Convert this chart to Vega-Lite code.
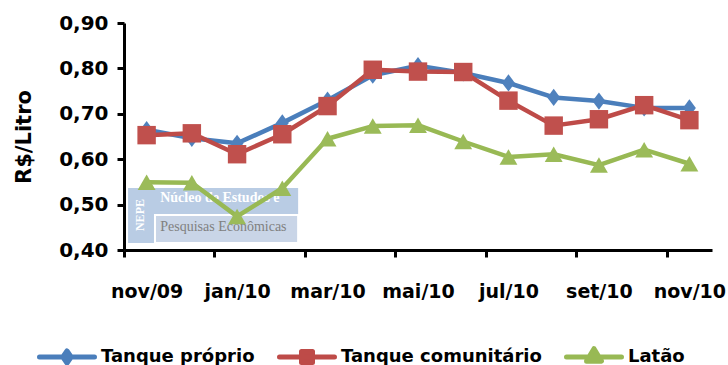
{
  "$schema": "https://vega.github.io/schema/vega-lite/v6.json",
  "width": 588,
  "height": 227,
  "autosize": {"type": "none"},
  "padding": {"left": 124, "top": 23, "right": 16, "bottom": 115},
  "background": "white",
  "config": {"view": {"stroke": null}, "font": "DejaVu Sans"},
  "datasets": {
    "prices": [
      {"m": "nov/09", "s": "Tanque próprio", "v": 0.665},
      {"m": "dez/09", "s": "Tanque próprio", "v": 0.646},
      {"m": "jan/10", "s": "Tanque próprio", "v": 0.635},
      {"m": "fev/10", "s": "Tanque próprio", "v": 0.68},
      {"m": "mar/10", "s": "Tanque próprio", "v": 0.73},
      {"m": "abr/10", "s": "Tanque próprio", "v": 0.785},
      {"m": "mai/10", "s": "Tanque próprio", "v": 0.806},
      {"m": "jun/10", "s": "Tanque próprio", "v": 0.79},
      {"m": "jul/10", "s": "Tanque próprio", "v": 0.768},
      {"m": "ago/10", "s": "Tanque próprio", "v": 0.736},
      {"m": "set/10", "s": "Tanque próprio", "v": 0.728},
      {"m": "out/10", "s": "Tanque próprio", "v": 0.713},
      {"m": "nov/10", "s": "Tanque próprio", "v": 0.713},
      {"m": "nov/09", "s": "Tanque comunitário", "v": 0.653},
      {"m": "dez/09", "s": "Tanque comunitário", "v": 0.657},
      {"m": "jan/10", "s": "Tanque comunitário", "v": 0.611},
      {"m": "fev/10", "s": "Tanque comunitário", "v": 0.655},
      {"m": "mar/10", "s": "Tanque comunitário", "v": 0.717},
      {"m": "abr/10", "s": "Tanque comunitário", "v": 0.797},
      {"m": "mai/10", "s": "Tanque comunitário", "v": 0.793},
      {"m": "jun/10", "s": "Tanque comunitário", "v": 0.792},
      {"m": "jul/10", "s": "Tanque comunitário", "v": 0.729},
      {"m": "ago/10", "s": "Tanque comunitário", "v": 0.674},
      {"m": "set/10", "s": "Tanque comunitário", "v": 0.688},
      {"m": "out/10", "s": "Tanque comunitário", "v": 0.719},
      {"m": "nov/10", "s": "Tanque comunitário", "v": 0.686},
      {"m": "nov/09", "s": "Latão", "v": 0.549},
      {"m": "dez/09", "s": "Latão", "v": 0.548},
      {"m": "jan/10", "s": "Latão", "v": 0.474},
      {"m": "fev/10", "s": "Latão", "v": 0.536},
      {"m": "mar/10", "s": "Latão", "v": 0.645},
      {"m": "abr/10", "s": "Latão", "v": 0.673},
      {"m": "mai/10", "s": "Latão", "v": 0.675},
      {"m": "jun/10", "s": "Latão", "v": 0.639},
      {"m": "jul/10", "s": "Latão", "v": 0.605},
      {"m": "ago/10", "s": "Latão", "v": 0.611},
      {"m": "set/10", "s": "Latão", "v": 0.587},
      {"m": "out/10", "s": "Latão", "v": 0.621},
      {"m": "nov/10", "s": "Latão", "v": 0.59}
    ],
    "logo": [
      {"ox0": 0.09, "ox1": 3.85, "oy0": 0.4154, "oy1": 0.5366, "ix0": 0.685, "iy1": 0.477, "tx": 0.8, "t1y": 0.5135, "t2y": 0.4507, "nx": 0.354, "ny": 0.477, "t1": "Núcleo de Estudos e", "t2": "Pesquisas Econômicas", "n": "NEPE"}
    ]
  },
  "layer": [
    {
      "data": {"name": "logo"},
      "layer": [
        {
          "mark": {"type": "rect", "fill": "#B9CCE4"},
          "encoding": {
            "x": {"field": "ox0", "type": "quantitative", "scale": {"domain": [0, 13], "nice": false, "zero": false}, "axis": null},
            "x2": {"field": "ox1"},
            "y": {"field": "oy0", "type": "quantitative", "scale": {"domain": [0.4, 0.9], "nice": false, "zero": false}},
            "y2": {"field": "oy1"}
          }
        },
        {
          "mark": {"type": "rect", "fill": "#C9D5E7", "stroke": "white", "strokeWidth": 2},
          "encoding": {
            "x": {"field": "ix0", "type": "quantitative", "scale": {"domain": [0, 13], "nice": false, "zero": false}, "axis": null},
            "x2": {"field": "ox1"},
            "y": {"field": "oy0", "type": "quantitative", "scale": {"domain": [0.4, 0.9], "nice": false, "zero": false}},
            "y2": {"field": "iy1"}
          }
        },
        {
          "mark": {"type": "text", "angle": 270, "font": "Liberation Serif", "fontWeight": "bold", "fontSize": 12, "color": "white", "align": "center", "baseline": "middle"},
          "encoding": {
            "x": {"field": "nx", "type": "quantitative", "scale": {"domain": [0, 13], "nice": false, "zero": false}, "axis": null},
            "y": {"field": "ny", "type": "quantitative", "scale": {"domain": [0.4, 0.9], "nice": false, "zero": false}},
            "text": {"field": "n"}
          }
        },
        {
          "mark": {"type": "text", "font": "Liberation Serif", "fontWeight": "bold", "fontSize": 14, "color": "white", "align": "left", "baseline": "middle"},
          "encoding": {
            "x": {"field": "tx", "type": "quantitative", "scale": {"domain": [0, 13], "nice": false, "zero": false}, "axis": null},
            "y": {"field": "t1y", "type": "quantitative", "scale": {"domain": [0.4, 0.9], "nice": false, "zero": false}},
            "text": {"field": "t1"}
          }
        },
        {
          "mark": {"type": "text", "font": "Liberation Serif", "fontSize": 14, "color": "#808080", "align": "left", "baseline": "middle"},
          "encoding": {
            "x": {"field": "tx", "type": "quantitative", "scale": {"domain": [0, 13], "nice": false, "zero": false}, "axis": null},
            "y": {"field": "t2y", "type": "quantitative", "scale": {"domain": [0.4, 0.9], "nice": false, "zero": false}},
            "text": {"field": "t2"}
          }
        }
      ]
    },
    {
      "data": {"name": "prices"},
      "encoding": {
        "x": {
          "field": "m",
          "type": "ordinal",
          "scale": {"type": "point", "padding": 0.5, "domain": ["nov/09", "dez/09", "jan/10", "fev/10", "mar/10", "abr/10", "mai/10", "jun/10", "jul/10", "ago/10", "set/10", "out/10", "nov/10"]},
          "axis": {
            "orient": "bottom",
            "title": null,
            "values": ["nov/09", "jan/10", "mar/10", "mai/10", "jul/10", "set/10", "nov/10"],
            "labelAngle": 0,
            "tickOffset": -22.6,
            "labelOffset": 22.6,
            "labelPadding": 25,
            "labelFont": "DejaVu Sans",
            "labelFontSize": 19,
            "labelFontWeight": "bold",
            "labelColor": "black",
            "domainColor": "black",
            "domainWidth": 3,
            "ticks": true,
            "tickColor": "black",
            "tickWidth": 3,
            "tickSize": 7,
            "grid": false
          }
        },
        "y": {
          "field": "v",
          "type": "quantitative",
          "scale": {"domain": [0.4, 0.9], "nice": false, "zero": false},
          "axis": {
            "orient": "left",
            "title": "R$/Litro",
            "values": [0.4, 0.5, 0.6, 0.7, 0.8, 0.9],
            "labelExpr": "replace(format(datum.value, '.2f'), '.', ',')",
            "grid": false,
            "domainColor": "black",
            "domainWidth": 3,
            "ticks": true,
            "tickColor": "black",
            "tickWidth": 3,
            "tickSize": 7,
            "labelFont": "DejaVu Sans",
            "labelFontSize": 20,
            "labelFontWeight": "bold",
            "labelColor": "black",
            "labelPadding": 9,
            "titleFont": "DejaVu Sans",
            "titleFontSize": 21,
            "titleFontWeight": "bold",
            "titleColor": "black",
            "titlePadding": 24
          }
        }
      },
      "layer": [
        {
          "mark": {"type": "line", "strokeWidth": 4.5, "strokeJoin": "round", "strokeCap": "round"},
          "encoding": {
            "color": {
              "field": "s",
              "type": "nominal",
              "scale": {"domain": ["Tanque próprio", "Tanque comunitário", "Latão"], "range": ["#4A7EBB", "#BE4B48", "#98B954"]},
              "legend": {
                "orient": "none",
                "legendX": -87,
                "legendY": 304,
                "direction": "horizontal",
                "title": null,
                "labelFont": "DejaVu Sans",
                "labelFontWeight": "bold",
                "labelFontSize": 18,
                "labelColor": "black",
                "labelLimit": 0,
                "symbolSize": 3025,
                "symbolStrokeWidth": 5,
                "labelOffset": 4,
                "columnPadding": 22,
                "symbolType": "M-1,0L1,0",
                "encode": {
                  "symbols": {
                    "update": {
                      "shape": {"signal": "datum.value === 'Tanque próprio' ? 'M-1,0L1,0M0,-0.22L0.15,0L0,0.22L-0.15,0Z' : datum.value === 'Tanque comunitário' ? 'M-1,0L1,0M-0.2,-0.2L0.2,-0.2L0.2,0.2L-0.2,0.2Z' : 'M-1,0L1,0M0,-0.3L0.27,0.15L-0.27,0.15Z'"},
                      "fill": {"signal": "scale('color', datum.value)"},
                      "stroke": {"signal": "scale('color', datum.value)"},
                      "strokeCap": {"value": "round"},
                      "strokeJoin": {"value": "round"},
                      "opacity": {"value": 1}
                    }
                  }
                }
              }
            }
          }
        },
        {
          "transform": [{"filter": "datum.s === 'Tanque próprio'"}],
          "mark": {"type": "point", "filled": true, "opacity": 1, "shape": "M0,-1L0.75,0L0,1L-0.75,0Z", "size": 300, "color": "#4F81BD"}
        },
        {
          "transform": [{"filter": "datum.s === 'Tanque comunitário'"}],
          "mark": {"type": "square", "opacity": 1, "size": 340, "color": "#C0504D"}
        },
        {
          "transform": [{"filter": "datum.s === 'Latão'"}],
          "mark": {"type": "point", "filled": true, "opacity": 1, "shape": "triangle-up", "size": 320, "color": "#9BBB59"}
        }
      ]
    }
  ],
  "resolve": {"scale": {"x": "independent"}}
}
